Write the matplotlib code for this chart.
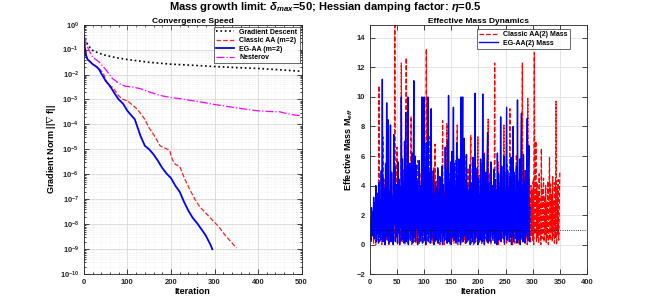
import numpy as np
import matplotlib.pyplot as plt
from matplotlib.ticker import MultipleLocator, LogLocator, NullFormatter

plt.rcParams['font.family'] = ['Liberation Sans', 'DejaVu Sans']
plt.rcParams['font.weight'] = 'bold'
plt.rcParams['mathtext.fontset'] = 'custom'
plt.rcParams['mathtext.it'] = 'Liberation Sans:italic:bold'
plt.rcParams['mathtext.rm'] = 'Liberation Sans:bold'

# ---------- convergence curves ----------
gd_it = [0, 5, 10, 20, 35, 50, 75, 100, 150, 200, 250, 300, 350, 400, 450, 500]
gd_val = [4.0e-1, 2.2e-1, 1.45e-1, 9.3e-2, 7.1e-2, 5.9e-2, 4.7e-2, 4.0e-2,
          3.1e-2, 2.6e-2, 2.35e-2, 2.1e-2, 1.9e-2, 1.75e-2, 1.55e-2, 1.35e-2]

nes_it = [0, 5, 10, 20, 35, 50, 65, 80, 95, 110, 130, 150, 175, 200, 225, 250,
          275, 300, 325, 350, 375, 400, 425, 450, 475, 500]
nes_val = [4.2e-1, 2.0e-1, 1.07e-1, 5.0e-2, 3.2e-2, 1.6e-2, 7.1e-3, 4.5e-3,
           3.4e-3, 3.2e-3, 2.7e-3, 2.0e-3, 1.45e-3, 1.2e-3, 1.05e-3, 8.9e-4,
           7.6e-4, 6.3e-4, 5.4e-4, 4.6e-4, 4.0e-4, 3.5e-4, 3.3e-4, 3.2e-4,
           2.5e-4, 2.2e-4]

aa_it = [0, 3, 6, 10, 15, 20, 25, 30, 35, 40, 45, 50, 55, 60, 65, 70, 80, 90,
         100, 110, 120, 130, 140, 150, 160, 170, 175, 180, 190, 197, 203, 210,
         220, 232, 243, 255, 266, 280, 296, 310, 325, 340, 350]
aa_val = [4.0e-1, 1.3e-1, 5.6e-2, 4.0e-2, 3.2e-2, 2.6e-2, 2.3e-2, 2.0e-2,
          1.7e-2, 1.4e-2, 1.1e-2, 6.3e-3, 4.0e-3, 3.2e-3, 3.2e-3, 2.5e-3,
          1.4e-3, 1.0e-3, 8.9e-4, 6.3e-4, 4.5e-4, 2.8e-4, 1.6e-4, 7.1e-5,
          4.0e-5, 2.0e-5, 1.4e-5, 1.26e-5, 1.05e-5, 9.1e-6, 4.0e-6, 2.5e-6,
          2.1e-6, 6.3e-7, 2.5e-7, 1.0e-7, 5.0e-8, 2.8e-8, 1.4e-8, 7.9e-9,
          3.5e-9, 1.8e-9, 1.1e-9]

eg_it = [0, 2, 4, 6, 8, 10, 15, 20, 25, 30, 35, 40, 45, 50, 60, 70, 80, 90,
         100, 110, 117, 125, 130, 140, 150, 160, 170, 180, 190, 200, 210, 220,
         230, 240, 250, 260, 270, 280, 290, 295]
eg_val = [4.0e-1, 1.3e-1, 7.1e-2, 5.0e-2, 4.2e-2, 3.8e-2, 3.2e-2, 2.6e-2,
          2.3e-2, 2.0e-2, 1.6e-2, 1.1e-2, 7.9e-3, 5.6e-3, 3.5e-3, 1.8e-3,
          1.0e-3, 6.8e-4, 3.5e-4, 2.2e-4, 1.6e-4, 6.3e-5, 3.5e-5, 1.4e-5,
          1.0e-5, 6.3e-6, 3.5e-6, 1.8e-6, 1.07e-6, 7.1e-7, 3.5e-7, 2.0e-7,
          7.9e-8, 3.5e-8, 1.8e-8, 1.1e-8, 6.3e-9, 3.5e-9, 1.6e-9, 1.0e-9]

# ---------- effective mass per iteration ----------
mass_aa = [
    1.0, 0.4, 1.8, 0.2, 2.3, 0.6, 1.5, 0.1, 2.9, 0.5,
    2.0, 0.0, 3.4, 0.8, 2.6, 0.3, 4.1, 10.75, 0.2, 3.0,
    0.7, 3.6, 0.0, 2.4, 7.3, 0.5, 4.4, 0.1, 3.1, 0.9,
    5.2, 0.3, 2.7, 0.6, 4.0, 0.0, 3.5, 1.0, 2.2, 0.2,
    4.8, 0.4, 3.3, 0.1, 5.6, 0.7, 15.5, 0.2, 3.9, 0.5,
    6.6, 0.0, 2.8, 0.8, 4.5, 0.3, 3.7, 0.1, 12.3, 0.6,
    4.2, 0.2, 5.1, 0.9, 3.0, 0.0, 4.7, 12.65, 0.4, 2.9,
    0.1, 5.4, 0.7, 3.8, 0.3, 4.3, 8.7, 0.0, 3.2, 0.6,
    5.0, 0.2, 4.1, 0.8, 2.5, 0.1, 3.9, 0.5, 5.7, 0.3,
    3.4, 0.0, 4.9, 0.9, 2.8, 0.2, 4.4, 0.6, 3.1, 0.1,
    5.3, 0.4, 3.6, 0.0, 13.25, 0.7, 4.0, 0.2, 2.7, 0.5,
    7.3, 0.1, 3.5, 0.8, 4.6, 0.3, 3.0, 0.0, 5.2, 0.6,
    6.8, 0.2, 4.3, 0.9, 2.9, 0.1, 5.0, 0.4, 3.7, 0.0,
    4.5, 0.7, 3.2, 0.2, 8.4, 0.5, 4.1, 0.0, 3.6, 0.8,
    5.5, 0.3, 8.2, 0.1, 3.9, 0.6, 4.8, 0.0, 2.6, 0.4,
    5.1, 0.2, 3.4, 0.9, 4.6, 0.1, 3.0, 0.5, 5.8, 0.3,
    4.2, 8.1, 0.0, 3.7, 0.7, 4.9, 0.2, 3.3, 0.6, 5.4,
    0.1, 4.0, 0.8, 3.5, 0.3, 6.0, 0.0, 4.4, 0.5, 2.9,
    0.2, 5.2, 0.9, 3.8, 0.4, 4.6, 7.4, 0.1, 3.1, 0.6,
    5.7, 0.0, 4.3, 0.7, 3.6, 0.2, 5.0, 0.5, 2.8, 7.3,
    0.3, 4.7, 0.1, 3.9, 0.8, 5.5, 0.0, 3.4, 0.6, 4.1,
    0.2, 6.2, 0.4, 3.7, 0.9, 4.5, 0.1, 3.0, 8.5, 0.5,
    4.8, 0.3, 3.5, 0.0, 5.3, 0.7, 4.0, 0.2, 3.2, 0.6,
    12.3, 0.1, 4.4, 0.8, 3.6, 0.3, 5.6, 0.0, 4.2, 0.5,
    3.8, 0.2, 5.1, 0.9, 4.6, 0.4, 3.1, 8.1, 0.0, 4.9,
    0.6, 3.7, 0.1, 5.4, 0.3, 4.0, 0.7, 3.3, 9.2, 0.2,
    4.5, 0.5, 3.9, 0.0, 5.8, 0.8, 3.4, 0.1, 4.7, 0.4,
    6.1, 0.2, 3.6, 0.9, 4.3, 0.0, 5.2, 0.6, 3.0, 0.3,
    4.8, 12.3, 0.1, 3.8, 0.7, 5.0, 0.2, 4.1, 0.5, 3.5,
    0.0, 9.9, 0.4, 4.6, 0.8, 3.2, 0.1, 4.0, 0.6, 3.7,
    0.3, 4.4, 0.0, 13.0, 0.7, 3.9, 7.0, 0.2, 4.2, 0.5,
    3.6, 0.1, 4.8, 0.6, 3.1, 0.0, 6.5, 0.4, 3.8, 0.9,
    4.5, 0.2, 3.3, 0.7, 4.0, 0.1, 2.9, 0.5, 4.3, 0.0,
    3.6, 5.9, 0.3, 4.1, 0.8, 3.4, 0.2, 4.6, 0.6, 3.0,
    0.1, 4.2, 0.5, 9.7, 0.0, 3.8, 0.7, 4.4, 0.3, 2.5,
    5.0]

mass_eg = [
    1.0, 1.6, 0.3, 2.5, 0.6, 2.2, 0.9, 3.2, 0.4, 2.8,
    1.2, 4.0, 0.2, 3.5, 0.8, 2.6, 0.1, 4.2, 0.5, 3.0,
    0.3, 5.0, 0.9, 11.2, 0.2, 4.5, 1.1, 3.8, 0.0, 5.5,
    0.6, 9.6, 0.3, 4.8, 8.45, 0.1, 3.6, 0.7, 8.1, 0.2,
    4.9, 0.9, 3.2, 0.0, 7.45, 1.4, 5.3, 0.2, 4.1, 0.6,
    3.7, 0.1, 5.6, 0.8, 4.4, 0.0, 3.9, 1.2, 10.0, 0.3,
    5.8, 0.6, 4.2, 0.1, 7.0, 0.9, 8.95, 0.2, 5.1, 0.4,
    10.0, 0.0, 4.6, 1.0, 5.5, 0.3, 3.8, 0.7, 6.2, 0.1,
    4.9, 11.1, 0.5, 6.0, 0.2, 5.4, 1.1, 4.3, 0.0, 3.5,
    0.8, 5.7, 0.2, 4.0, 0.6, 3.3, 10.0, 0.1, 4.8, 0.9,
    10.0, 0.3, 5.2, 0.0, 6.9, 0.7, 4.4, 10.0, 0.2, 3.6,
    0.8, 4.9, 0.1, 9.2, 0.4, 3.1, 0.9, 5.0, 0.0, 3.4,
    0.6, 4.2, 0.3, 3.8, 1.0, 5.2, 0.1, 3.5, 0.5, 4.6,
    0.2, 3.9, 0.8, 5.3, 0.0, 4.1, 0.6, 3.3, 0.3, 6.6,
    0.9, 5.0, 0.1, 7.0, 0.4, 10.1, 0.2, 4.2, 0.7, 5.6,
    0.0, 6.3, 0.5, 3.8, 9.3, 0.3, 5.5, 0.9, 4.0, 0.1,
    6.9, 0.6, 4.5, 0.2, 5.8, 0.8, 3.9, 0.0, 10.0, 0.4,
    4.7, 10.0, 0.2, 5.1, 7.2, 0.6, 4.3, 0.1, 6.1, 0.9,
    4.0, 0.3, 3.6, 0.7, 5.4, 0.0, 4.2, 0.5, 3.1, 0.2,
    5.9, 0.8, 4.6, 0.1, 10.25, 0.4, 3.8, 0.9, 5.2, 0.0,
    4.5, 0.6, 3.4, 0.3, 5.8, 0.7, 4.1, 0.2, 10.2, 0.5,
    6.1, 0.0, 3.7, 0.8, 4.9, 0.3, 5.5, 7.6, 0.1, 4.2,
    0.6, 3.5, 0.2, 5.6, 0.9, 4.0, 0.4, 3.2, 0.7, 5.1,
    0.1, 4.4, 0.5, 3.7, 0.0, 6.2, 0.8, 4.8, 0.3, 3.9,
    0.6, 8.65, 0.2, 5.3, 0.9, 4.1, 0.4, 6.0, 0.1, 3.6,
    0.7, 4.7, 9.3, 0.3, 5.0, 0.8, 3.8, 0.2, 4.6, 0.5,
    5.9, 0.0, 3.4, 0.6, 8.0, 0.2, 4.9, 0.9, 3.7, 0.4,
    5.3, 0.1, 9.8, 0.7, 4.2, 0.3, 5.8, 0.0, 4.5, 8.9,
    0.5, 3.9, 0.2, 6.1, 0.8, 4.3, 0.1, 5.0, 0.6, 3.5,
    8.55, 0.3, 4.7, 6.7, 0.2, 2.5]

fig = plt.figure(figsize=(6.5, 3.08), dpi=100)
fig.suptitle(r'Mass growth limit: $\delta_{max}$=50; Hessian damping factor: $\eta$=0.5',
             fontsize=8, fontweight='bold', y=0.978, va='center')

tick_kw = dict(direction='in', labelsize=5.5, colors='#262626', width=0.6)

# ----------[left: convergence]----------
ax1 = fig.add_axes([0.129, 0.110, 0.335, 0.810])
ax1.semilogy(gd_it, gd_val, ':', color='black', lw=1.2, label='Gradient Descent')
ax1.semilogy(aa_it, aa_val, '--', color='#ff2020', lw=0.9, label='Classic AA (m=2)')
ax1.semilogy(eg_it, eg_val, '-', color='#0000ff', lw=1.3, label='EG-AA (m=2)')
ax1.semilogy(nes_it, nes_val, '-.', color='#ff00ff', lw=0.9, label='Nesterov')
ax1.set_xlim(0, 500)
ax1.set_ylim(1e-10, 1)
ax1.xaxis.set_major_locator(MultipleLocator(100))
ax1.xaxis.set_minor_locator(MultipleLocator(20))
ax1.yaxis.set_major_locator(LogLocator(base=10, numticks=20))
ax1.yaxis.set_minor_locator(LogLocator(base=10, subs=np.arange(2, 10), numticks=20))
ax1.yaxis.set_minor_formatter(NullFormatter())
ax1.grid(True, which='major', color='#d8d8d8', lw=0.6)
ax1.grid(True, which='minor', color='#e4e4e4', lw=0.4, ls=':')
ax1.tick_params(which='both', top=True, right=True, **tick_kw)
ax1.tick_params(which='minor', length=1.5)
ax1.set_title('Convergence Speed', fontsize=6, fontweight='bold', pad=1.5)
ax1.set_xlabel('Iteration', fontsize=6.5, fontweight='bold', labelpad=1)
ax1.set_ylabel(r'Gradient Norm ||$\nabla$ f||', fontsize=6.5, fontweight='bold', labelpad=1)
ax1.legend(loc='upper right', fontsize=5, frameon=True, fancybox=False,
           edgecolor='#262626', borderpad=0.3, labelspacing=0.2,
           handlelength=2.6, borderaxespad=0.3).get_frame().set_linewidth(0.6)

# ----------[right: effective mass]----------
ax2 = fig.add_axes([0.569, 0.110, 0.334, 0.810])
ax2.plot(np.arange(len(mass_aa)), mass_aa, '--', color='#ff0000', lw=0.9,
         label='Classic AA(2) Mass')
ax2.plot(np.arange(len(mass_eg)), mass_eg, '-', color='#0000ff', lw=1.0,
         label='EG-AA(2) Mass')
ax2.axhline(1, color='black', ls=':', lw=0.6)
ax2.set_xlim(0, 400)
ax2.set_ylim(-2, 14.9)
ax2.xaxis.set_major_locator(MultipleLocator(50))
ax2.yaxis.set_major_locator(MultipleLocator(2))
ax2.grid(True, color='#e0e0e0', lw=0.6)
ax2.tick_params(top=True, right=True, **tick_kw)
ax2.set_title('Effective Mass Dynamics', fontsize=6, fontweight='bold', pad=1.5)
ax2.set_xlabel('Iteration', fontsize=6.5, fontweight='bold', labelpad=1)
ax2.set_ylabel(r'Effective Mass M$_{eff}$', fontsize=6.5, fontweight='bold', labelpad=1)
ax2.legend(loc='upper right', bbox_to_anchor=(0.93, 0.99), fontsize=5, frameon=True,
           fancybox=False, edgecolor='#262626', borderpad=0.3, labelspacing=0.2,
           handlelength=2.6, borderaxespad=0.3).get_frame().set_linewidth(0.6)

for ax in (ax1, ax2):
    for s in ax.spines.values():
        s.set_linewidth(0.6)
        s.set_color('#262626')

fig.savefig('out.png', dpi=100)
